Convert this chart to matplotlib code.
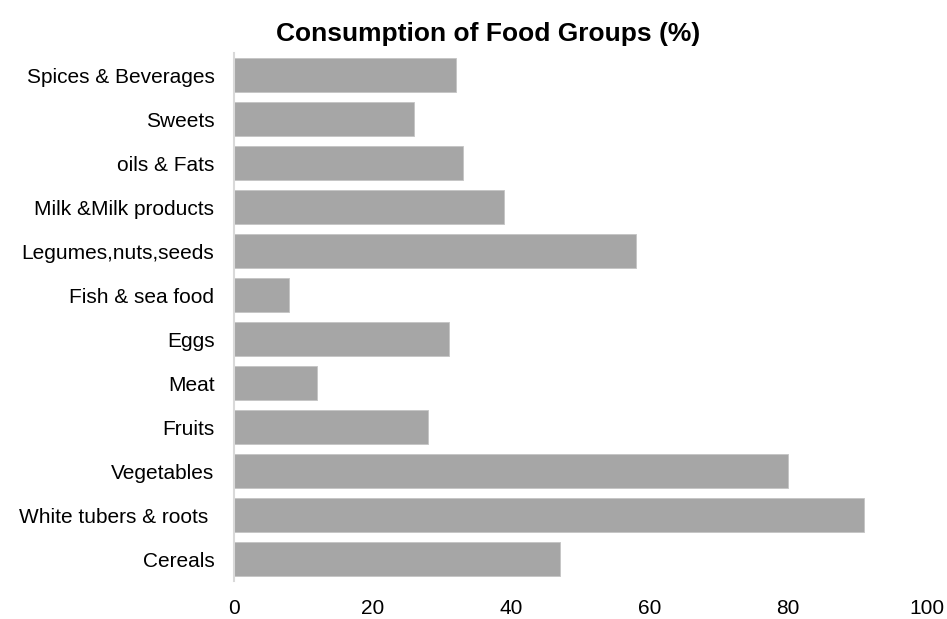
import matplotlib.pyplot as plt

# food groups, bottom to top as drawn
groups = ["Cereals", "White tubers & roots ", "Vegetables", "Fruits", "Meat", "Eggs",
          "Fish & sea food", "Legumes,nuts,seeds", "Milk &Milk products", "oils & Fats",
          "Sweets", "Spices & Beverages"]
percent = [47, 91, 80, 28, 12, 31, 8, 58, 39, 33, 26, 32]
xticks = [0, 20, 40, 60, 80, 100]

plt.rcParams['font.family'] = ['Liberation Sans', 'DejaVu Sans']

fig = plt.figure(figsize=(9.47, 6.19), dpi=100)
ax = fig.add_axes([0.247, 0.0614, 0.7316, 0.8526])

ax.barh(range(len(groups)), percent, height=0.77, color="#a6a6a6",
        edgecolor="#c4c4c4", linewidth=0.6)
ax.set_xlim(0, 100)
ax.set_ylim(-0.5, len(groups) - 0.5)
ax.set_xticks(xticks)
ax.set_yticks(range(len(groups)))
ax.set_yticklabels(groups)
ax.tick_params(axis="both", length=0, labelsize=15)
ax.tick_params(axis="y", pad=14)
ax.tick_params(axis="x", pad=13)

for s in ["top", "right", "bottom"]:
    ax.spines[s].set_visible(False)
ax.spines["left"].set_color("#d9d9d9")
ax.spines["left"].set_linewidth(1.5)

fig.text(0.515, 0.945, "Consumption of Food Groups (%)", ha="center", va="center",
         fontsize=19, fontweight="bold")

fig.savefig("out.png", dpi=100)
